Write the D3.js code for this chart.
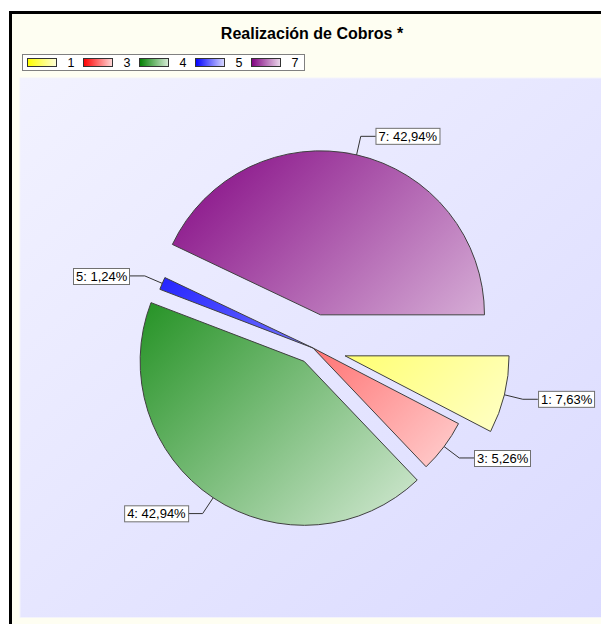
<!DOCTYPE html>
<html>
<head>
<meta charset="utf-8">
<script src="https://cdn.jsdelivr.net/npm/d3@7"></script>
<style>
  body { margin: 0; background: #fff; }
  svg { display: block; font-family: Arial, "Liberation Sans", sans-serif; }
</style>
</head>
<body>
<div id="chart"></div>
<script>
// data
const categories = ['1', '3', '4', '5', '7'];
const percents = [7.63, 5.26, 42.94, 1.24, 42.94];
const labels = ['1: 7,63%', '3: 5,26%', '4: 42,94%', '5: 1,24%', '7: 42,94%'];
const baseColors = ['#ffff00', '#ff0000', '#008000', '#0000ff', '#800080'];

const CHART_CONFIG = {
  width: 601,
  height: 624,
  center: { x: 313, y: 348 },
  radius: 164,
  // how far each slice is pulled out of the pie
  explode: { '1': 33, '4': 16, '7': 34 },
  leaderOut: 19,
  leaderFlat: 15
};

const { width, height, center, radius } = CHART_CONFIG;

const svg = d3.select('#chart').append('svg')
  .attr('width', width)
  .attr('height', height);

const defs = svg.append('defs');

// chart background + frame
svg.append('rect')
  .attr('x', 10.5).attr('y', 12.5)
  .attr('width', 620).attr('height', 640)
  .attr('fill', '#fefef2')
  .attr('stroke', '#000')
  .attr('stroke-width', 3);

const plotGrad = defs.append('linearGradient')
  .attr('id', 'plot-bg')
  .attr('x1', 0).attr('y1', 0).attr('x2', 1).attr('y2', 1);
plotGrad.append('stop').attr('offset', 0).attr('stop-color', '#f2f2ff');
plotGrad.append('stop').attr('offset', 1).attr('stop-color', '#dadaff');

svg.append('rect')
  .attr('x', 20).attr('y', 78)
  .attr('width', 600).attr('height', 539.5)
  .attr('fill', 'url(#plot-bg)')
  .attr('stroke', '#f4f4fb')
  .attr('stroke-width', 1);

// title
svg.append('text')
  .attr('x', 312)
  .attr('y', 39)
  .attr('text-anchor', 'middle')
  .style('font-size', '16px')
  .style('font-weight', 'bold')
  .attr('fill', '#000')
  .text('Realización de Cobros *');

// legend
const legend = svg.append('g').attr('transform', 'translate(22.5,54.5)');
legend.append('rect')
  .attr('width', 282).attr('height', 16)
  .attr('fill', '#fff')
  .attr('stroke', '#808080');

baseColors.forEach((c, i) => {
  const g = defs.append('linearGradient')
    .attr('id', `leg-${i}`)
    .attr('x1', 0).attr('y1', 0).attr('x2', 1).attr('y2', 0);
  g.append('stop').attr('offset', 0).attr('stop-color', c);
  g.append('stop').attr('offset', 1).attr('stop-color', d3.interpolateRgb(c, '#fff')(0.85));
});

const legendItems = legend.selectAll('.legend-item')
  .data(categories)
  .enter()
  .append('g')
  .attr('class', 'legend-item')
  .attr('transform', (d, i) => `translate(${5 + i * 56}, 0)`);

legendItems.append('rect')
  .attr('x', 0).attr('y', 4)
  .attr('width', 29).attr('height', 8)
  .attr('fill', (d, i) => `url(#leg-${i})`)
  .attr('stroke', '#333')
  .attr('stroke-width', 1);

legendItems.append('text')
  .attr('x', 40)
  .attr('y', 12.5)
  .style('font-size', '12.5px')
  .attr('fill', '#000')
  .text(d => d);

// pie
const pie = d3.pie()
  .sort(null)
  .value(d => d.value)
  .startAngle(Math.PI / 2)
  .endAngle(Math.PI / 2 + 2 * Math.PI);

const arc = d3.arc().innerRadius(0).outerRadius(radius);

const slices = pie(categories.map((c, i) => ({ cat: c, value: percents[i], label: labels[i], color: baseColors[i] })));

slices.forEach((s, i) => {
  const g = defs.append('linearGradient')
    .attr('id', `slice-${i}`)
    .attr('gradientUnits', 'userSpaceOnUse')
    .attr('x1', -radius).attr('y1', -radius)
    .attr('x2', radius).attr('y2', radius);
  g.append('stop').attr('offset', 0).attr('stop-color', s.data.color);
  g.append('stop').attr('offset', 1).attr('stop-color', d3.interpolateRgb(s.data.color, '#fff')(0.9));
});

const midAngle = s => (s.startAngle + s.endAngle) / 2;
const dir = a => [Math.sin(a), -Math.cos(a)];

const pieG = svg.append('g');

const sliceG = pieG.selectAll('.slice')
  .data(slices)
  .enter()
  .append('g')
  .attr('class', 'slice')
  .attr('transform', s => {
    const off = CHART_CONFIG.explode[s.data.cat] || 0;
    const [dx, dy] = dir(midAngle(s));
    return `translate(${center.x + dx * off},${center.y + dy * off})`;
  });

sliceG.append('path')
  .attr('d', arc)
  .attr('fill', (s, i) => `url(#slice-${i})`)
  .attr('stroke', '#404040')
  .attr('stroke-width', 1)
  .attr('stroke-linejoin', 'round');

// labels with leader lines
sliceG.each(function (s) {
  const g = d3.select(this);
  const a = midAngle(s);
  const [dx, dy] = dir(a);
  const p0 = [dx * radius, dy * radius];
  const p1 = [dx * (radius + CHART_CONFIG.leaderOut), dy * (radius + CHART_CONFIG.leaderOut)];
  const right = dx >= 0;
  const p2 = [p1[0] + (right ? CHART_CONFIG.leaderFlat : -CHART_CONFIG.leaderFlat), p1[1]];

  g.append('polyline')
    .attr('points', [p0, p1, p2].map(p => p.join(',')).join(' '))
    .attr('fill', 'none')
    .attr('stroke', '#333')
    .attr('stroke-width', 1);

  const lbl = g.append('g');
  const box = lbl.append('rect');
  const txt = lbl.append('text')
    .style('font-size', '13px')
    .attr('fill', '#000')
    .text(s.data.label);
  const w = txt.node().getComputedTextLength() + 5;
  const h = 16;
  const bx = right ? p2[0] : p2[0] - w;
  const by = p2[1] - h / 2;
  box.attr('x', Math.round(bx) + 0.5)
    .attr('y', Math.round(by) + 0.5)
    .attr('width', Math.round(w))
    .attr('height', h)
    .attr('fill', '#fff')
    .attr('stroke', '#707070');
  txt.attr('x', Math.round(bx) + 3)
    .attr('y', Math.round(by) + 13);
});
</script>
</body>
</html>
